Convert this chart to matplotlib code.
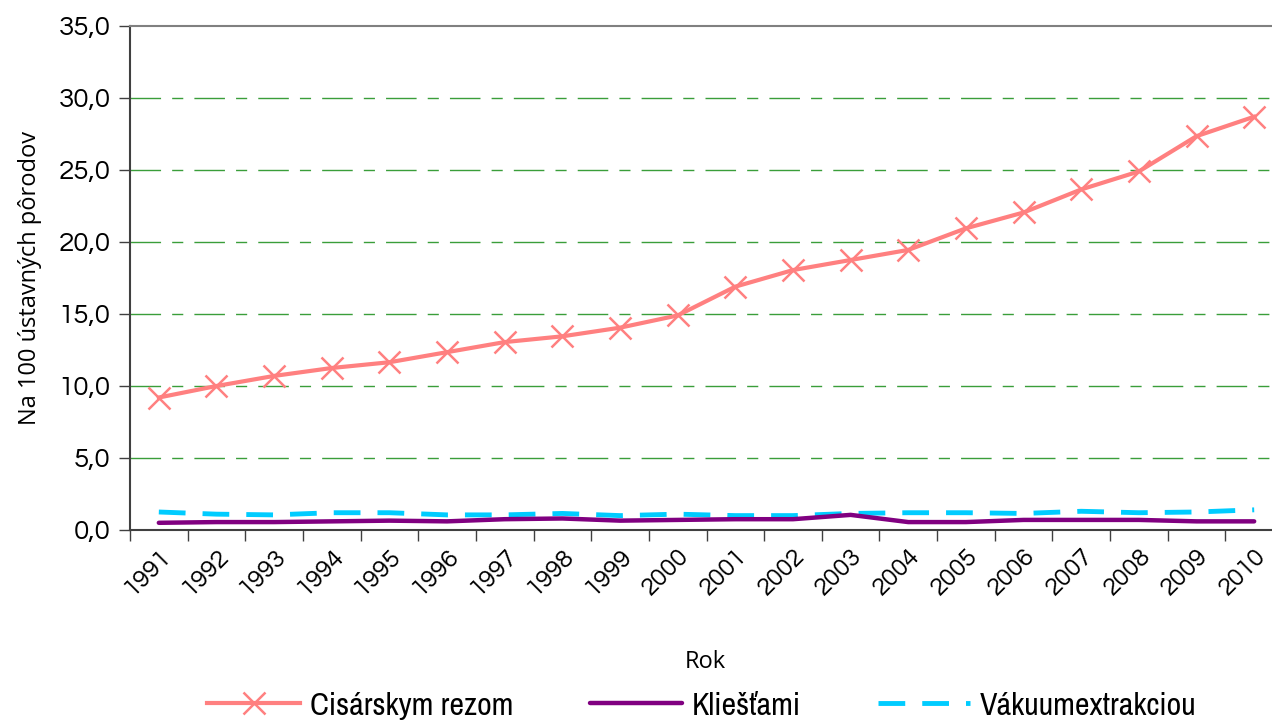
import matplotlib
matplotlib.use("Agg")
import matplotlib.pyplot as plt
from matplotlib.ticker import FuncFormatter, FixedLocator

years = [str(y) for y in range(1991, 2011)]
cisarsky = [9.2, 10.0, 10.7, 11.25, 11.65, 12.35, 13.05, 13.45, 14.05, 14.9,
            16.9, 18.05, 18.75, 19.45, 20.95, 22.05, 23.65, 24.9, 27.35, 28.7]
klieste = [0.5, 0.55, 0.55, 0.6, 0.65, 0.6, 0.75, 0.8, 0.65, 0.7,
           0.75, 0.75, 1.05, 0.55, 0.55, 0.7, 0.7, 0.7, 0.6, 0.6]
vakuum = [1.25, 1.1, 1.05, 1.2, 1.2, 1.05, 1.05, 1.15, 1.0, 1.1,
          1.0, 1.0, 1.15, 1.2, 1.2, 1.15, 1.3, 1.2, 1.25, 1.4]

# tick labels take the default family, axis titles and legend get their own
plt.rcParams['font.family'] = ['Questrial', 'DejaVu Sans']
label_font = ['Open Sans', 'DejaVu Sans']

fig = plt.figure(figsize=(12.72, 7.23), dpi=100)
ax = fig.add_axes([130/1272, 1-530/723, 1153/1272, (530-26)/723])

x = list(range(len(years)))
ax.plot(x, cisarsky, color="#FF8080", lw=3, marker="x", markersize=16,
        markeredgewidth=1.8, label="Cisárskym rezom", zorder=4)
ax.plot(x, klieste, color="#800080", lw=3.2, solid_capstyle="round",
        label="Kliešťami", zorder=3)
ax.plot(x, vakuum, color="#00CCFF", lw=3.5, dashes=(5.5, 3.5),
        label="Vákuumextrakciou", zorder=2)

ax.set_xlim(-0.5, len(years) - 0.5)
ax.set_ylim(0, 35)

for v in range(5, 35, 5):
    ax.axhline(v, color="#3A9E3A", lw=1, dashes=(22, 8, 8, 8), zorder=1)

ax.yaxis.set_major_locator(FixedLocator(range(0, 36, 5)))
ax.yaxis.set_major_formatter(FuncFormatter(lambda v, p: f"{v:.1f}".replace(".", ",")))
ax.xaxis.set_major_locator(FixedLocator([i - 0.5 for i in range(len(years) + 1)]))
ax.xaxis.set_major_formatter(FuncFormatter(lambda v, p: ""))
ax.xaxis.set_minor_locator(FixedLocator(x))
ax.set_xticklabels(years, minor=True, rotation=45, ha="right", va="top",
                   rotation_mode="anchor")

ax.tick_params(axis="x", which="major", length=8, width=1, color="#404040", direction="out")
ax.tick_params(axis="x", which="minor", length=0, pad=10, labelsize=18)
ax.tick_params(axis="y", length=8, width=1, color="#404040", pad=6, labelsize=20)

ax.spines["right"].set_visible(False)
ax.spines["top"].set_color("#808080")
ax.spines["top"].set_linewidth(1.5)
for s in ["left", "bottom"]:
    ax.spines[s].set_color("#404040")
    ax.spines[s].set_linewidth(1.5)

ax.set_ylabel("Na 100 ústavných pôrodov", fontsize=17, labelpad=12, family=label_font)
ax.set_xlabel("Rok", fontsize=17, family=label_font)
ax.xaxis.set_label_coords((705 - 130) / 1153, -(650 - 530) / 504)

fig.legend(loc="lower center", bbox_to_anchor=(702/1272, -0.035), ncol=3, frameon=False,
           prop={"family": ["Archivo Narrow", "DejaVu Sans"], "size": 23},
           handlelength=2.9, columnspacing=2.4, handletextpad=0.3)

fig.savefig("out.png", dpi=100)
